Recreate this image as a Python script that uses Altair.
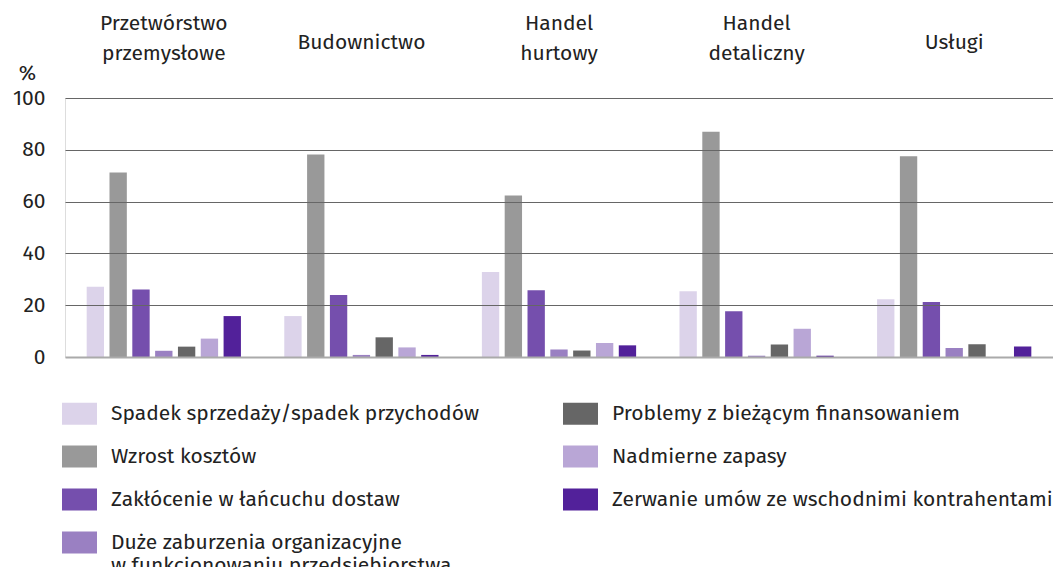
import altair as alt
import pandas as pd

categories = ["Przetwórstwo przemysłowe", "Budownictwo", "Handel hurtowy",
              "Handel detaliczny", "Usługi"]
series = [
    "Spadek sprzedaży/spadek przychodów",
    "Wzrost kosztów",
    "Zakłócenie w łańcuchu dostaw",
    "Duże zaburzenia organizacyjne w funkcjonowaniu przedsiębiorstwa",
    "Problemy z bieżącym finansowaniem",
    "Nadmierne zapasy",
    "Zerwanie umów ze wschodnimi kontrahentami",
]
colors = ["#dcd3ea", "#999999", "#754fad", "#9a80c2", "#666666", "#b9a6d6", "#52219a"]

spadek = [27.1, 15.8, 32.8, 25.4, 22.3]
wzrost = [71.2, 78.2, 62.4, 87.0, 77.5]
zaklocenie = [26.1, 23.9, 25.8, 17.7, 21.2]
zaburzenia = [2.4, 0.8, 2.9, 0.5, 3.5]
finansowanie = [4.0, 7.6, 2.5, 4.8, 4.9]
zapasy = [7.1, 3.7, 5.4, 10.9, 0.0]
zerwanie = [15.8, 0.8, 4.5, 0.5, 4.1]

values = [spadek, wzrost, zaklocenie, zaburzenia, finansowanie, zapasy, zerwanie]
rows = []
for s, vals in zip(series, values):
    for c, v in zip(categories, vals):
        rows.append({"kategoria": c, "seria": s, "wartosc": v})
df = pd.DataFrame(rows)

FONT = "Fira Sans, Open Sans, sans-serif"
FS = 21

long_label = series[3]
label_expr = (
    f"datum.label == '{long_label}' ? "
    "['Duże zaburzenia organizacyjne', 'w funkcjonowaniu przedsiębiorstwa'] : datum.label"
)

bars = alt.Chart(df).mark_bar().encode(
    x=alt.X(
        "kategoria:N",
        sort=categories,
        scale=alt.Scale(paddingInner=0, paddingOuter=0),
        axis=alt.Axis(
            orient="top", title=None, ticks=False, domain=False,
            labelAngle=0, labelFontSize=FS, labelFont=FONT, labelColor="#222222",
            labelPadding={"condition": {"test": "indexof(datum.label, ' ') < 0", "value": 56},
                          "value": 75},
            labelBaseline="middle", labelLineHeight=30,
            labelExpr="split(datum.label, ' ')",
        ),
    ),
    xOffset=alt.XOffset(
        "seria:N", sort=series,
        scale=alt.Scale(paddingInner=0.24, paddingOuter=0.95),
    ),
    y=alt.Y(
        "wartosc:Q",
        scale=alt.Scale(domain=[0, 100]),
        axis=alt.Axis(
            values=[0, 20, 40, 60, 80, 100], title="%", titleAngle=0,
            titleX=-38, titleY=-25, titleFontSize=FS, titleFont=FONT,
            titleFontWeight="normal", titleColor="#222222", titleAlign="center",
            titleBaseline="middle",
            ticks=False, domain=False, labelFontSize=FS, labelFont=FONT,
            labelColor="#222222", labelPadding=20,
            gridColor={"condition": {"test": "datum.value === 0", "value": "#aaaaaa"},
                       "value": "#666666"},
            gridWidth={"condition": {"test": "datum.value === 0", "value": 2},
                       "value": 1},
            zindex=1,
        ),
    ),
    color=alt.Color(
        "seria:N",
        scale=alt.Scale(domain=series, range=colors),
        legend=alt.Legend(
            title=None, orient="none", legendX=-3, legendY=298,
            columns=2, columnPadding=84, rowPadding=14,
            symbolType="M-1,-0.63H1V0.63H-1Z", symbolSize=1225,
            symbolStrokeWidth=0, symbolOpacity=1,
            labelFontSize=FS, labelFont=FONT, labelColor="#222222",
            labelOffset=14, labelLimit=600, labelExpr=label_expr,
        ),
    ),
)

chart = bars.properties(
    width=988,
    height=259,
    autosize=alt.AutoSizeParams(type="none"),
    padding={"left": 57, "top": 90, "right": 0, "bottom": 210},
).configure_view(stroke=None).configure(background="white")

chart.save("out.html", embed_options={"renderer": "svg", "actions": False})
